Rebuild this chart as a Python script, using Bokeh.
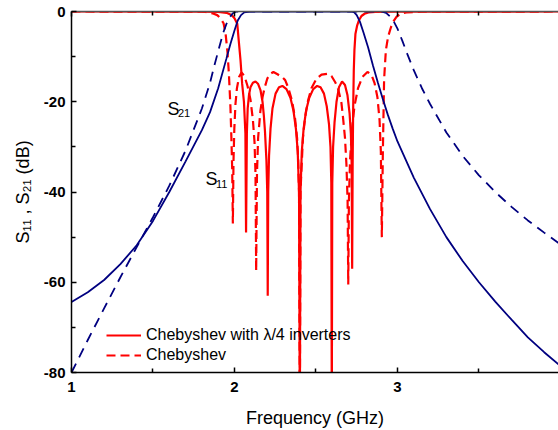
from bokeh.plotting import figure
from bokeh.models import Range1d, LinearAxis, FixedTicker, Legend, LegendItem, Label
from bokeh.embed import file_html
from bokeh.resources import INLINE

FONT = "Liberation Sans"

# ---------------- data ----------------
# S11, Chebyshev with lambda/4 inverters (solid red)
f_s11_inv = [1.0, 1.8, 1.9, 1.951, 1.982, 2.000, 2.017, 2.026, 2.037, 2.047, 2.058, 2.067,
             2.071, 2.076, 2.081, 2.089, 2.098, 2.113, 2.129, 2.144, 2.160, 2.172, 2.180,
             2.187, 2.196, 2.201, 2.204, 2.207, 2.212, 2.221, 2.233, 2.252, 2.273, 2.294,
             2.319, 2.344, 2.362, 2.377, 2.388, 2.396, 2.401, 2.405, 2.413, 2.424, 2.439,
             2.458, 2.483, 2.507, 2.528, 2.549, 2.566, 2.580, 2.589, 2.594, 2.597, 2.600,
             2.605, 2.614, 2.626, 2.641, 2.660, 2.678, 2.693, 2.706, 2.714, 2.719, 2.722,
             2.725, 2.728, 2.732, 2.736, 2.742, 2.752, 2.763, 2.779, 2.798, 2.822, 2.865,
             3.0, 4.0]
db_s11_inv = [0.0, -0.02, -0.1, -0.3, -0.8, -1.5, -2.7, -6.4, -10.8, -16.0, -20.0, -27.0,
              -49.0, -27.0, -21.5, -18.5, -16.8, -15.8, -15.5, -16.0, -17.5, -20.0, -23.0,
              -26.5, -33.0, -40.0, -63.0, -40.0, -32.0, -26.0, -21.5, -18.2, -16.8, -16.5,
              -17.2, -19.2, -22.0, -26.0, -31.0, -40.0, -90.0, -40.0, -31.0, -26.0, -22.0,
              -19.2, -17.2, -16.5, -16.8, -18.2, -21.0, -25.0, -30.0, -38.0, -90.0, -38.0,
              -30.0, -24.5, -20.0, -16.8, -15.5, -16.3, -18.5, -22.5, -27.0, -34.0, -57.0,
              -34.0, -22.0, -13.0, -8.5, -5.0, -3.2, -2.0, -1.0, -0.5, -0.2, -0.1,
              -0.02, 0.0]

# S11, Chebyshev (dashed red)
f_s11_ch = [1.0, 1.8, 1.822, 1.865, 1.894, 1.914, 1.933, 1.945, 1.957, 1.966, 1.975, 1.981,
            1.986, 1.990, 1.994, 1.999, 2.006, 2.015, 2.028, 2.043, 2.061, 2.080, 2.098,
            2.113, 2.123, 2.129, 2.133, 2.138, 2.145, 2.159, 2.172, 2.184, 2.202, 2.221,
            2.239, 2.264, 2.294, 2.311, 2.331, 2.353, 2.371, 2.384, 2.391, 2.396, 2.401,
            2.405, 2.411, 2.420, 2.433, 2.451, 2.472, 2.503, 2.534, 2.571, 2.595, 2.620,
            2.636, 2.656, 2.666, 2.678, 2.687, 2.694, 2.698, 2.702, 2.709, 2.721, 2.736,
            2.758, 2.785, 2.816, 2.840, 2.859, 2.877, 2.890, 2.898, 2.904, 2.910, 2.918,
            2.929, 2.943, 2.960, 2.975, 2.994, 3.018, 3.055, 3.15, 4.0]
db_s11_ch = [0.0, -0.05, -0.1, -0.4, -0.8, -1.5, -2.6, -4.8, -9.0, -14.0, -21.0, -28.0,
             -35.0, -47.0, -33.0, -26.0, -20.5, -17.0, -14.5, -13.5, -14.3, -16.5, -19.5,
             -24.0, -29.0, -36.0, -57.5, -36.0, -28.0, -22.0, -19.0, -17.0, -14.8, -13.8,
             -13.4, -13.9, -14.6, -15.2, -17.0, -19.8, -23.5, -28.0, -33.0, -40.0, -90.0,
             -40.0, -35.0, -28.0, -23.5, -19.8, -17.0, -14.9, -14.0, -13.8, -14.3, -15.8,
             -17.2, -20.2, -23.5, -28.0, -34.0, -42.0, -60.5, -42.0, -33.0, -26.0, -21.0,
             -17.0, -14.5, -13.4, -14.0, -15.8, -19.0, -24.0, -31.0, -50.0, -32.0, -15.0,
             -8.5, -5.5, -3.5, -2.2, -1.2, -0.5, -0.2, -0.05, 0.0]

# S21, Chebyshev with lambda/4 inverters (solid blue)
f_s21_inv = [1.0, 1.1, 1.2, 1.3, 1.4, 1.5, 1.6, 1.7, 1.8, 1.85, 1.9, 1.95, 1.975, 2.0,
             2.02, 2.04, 2.06, 2.09, 2.72, 2.735, 2.75, 2.77, 2.79, 2.82, 2.85, 2.88, 2.91,
             2.94, 2.97, 3.0, 3.1, 3.2, 3.3, 3.4, 3.5, 3.6, 3.7, 3.8, 3.9, 3.988]
db_s21_inv = [-64.4, -62.2, -59.5, -56.0, -51.8, -46.4, -40.0, -33.2, -26.3, -22.3, -17.0,
              -10.5, -7.2, -4.2, -2.0, -0.8, -0.2, 0.0, 0.0, -0.2, -0.8, -2.3, -4.5, -8.0,
              -12.0, -15.8, -19.4, -22.8, -25.9, -28.8, -36.8, -43.8, -50.0, -55.3, -60.0,
              -64.3, -68.3, -72.2, -75.5, -78.2]

# S21, Chebyshev (dashed blue)
f_s21_ch = [1.0, 1.1, 1.2, 1.3, 1.4, 1.5, 1.6, 1.7, 1.8, 1.85, 1.875, 1.9, 1.93, 1.95,
            1.97, 1.99, 2.01, 2.03, 2.9, 2.93, 2.96, 2.98, 3.0, 3.03, 3.06, 3.1, 3.15, 3.2,
            3.3, 3.4, 3.5, 3.6, 3.7, 3.8, 3.9, 3.988]
db_s21_ch = [-80.0, -72.8, -65.8, -58.9, -52.2, -45.6, -38.6, -30.8, -21.5, -15.8, -12.2,
             -8.8, -4.8, -2.8, -1.3, -0.4, -0.05, 0.0, 0.0, -0.3, -1.3, -2.4, -3.8, -6.5,
             -9.4, -13.0, -17.0, -20.5, -26.8, -32.0, -36.3, -40.0, -43.3, -46.3, -49.0,
             -51.3]

x_ticks = [1, 2, 3, 4]
x_minor = [1.5, 2.5, 3.5]
x_tick_labels = ["1", "2", "3", "4"]
y_ticks = [-80, -60, -40, -20, 0]
y_minor = [-70, -50, -30, -10]
y_tick_labels = ["-80", "-60", "-40", "-20", "0"]

legend_labels = ["Chebyshev with \u03bb/4 inverters", "Chebyshev"]
x_title = "Frequency (GHz)"
y_title = "S\u2081\u2081 , S\u2082\u2081 (dB)"

RED = "#ff0000"
BLUE = "#000080"

# ---------------- figure ----------------
p = figure(width=558, height=430, x_range=Range1d(1.0, 3.988), y_range=Range1d(-80, 0),
           output_backend="svg", toolbar_location=None,
           x_axis_location=None, y_axis_location=None,
           min_border_left=71, min_border_right=0, min_border_top=11, min_border_bottom=57)
p.grid.visible = False
p.outline_line_color = None
p.background_fill_color = "white"
p.border_fill_color = "white"

def style_axis(ax):
    ax.axis_line_color = "black"
    ax.axis_line_width = 1.5
    ax.major_tick_line_color = "black"
    ax.minor_tick_line_color = "black"
    ax.major_tick_line_width = 1.5
    ax.minor_tick_line_width = 1.5
    ax.major_tick_in = 5
    ax.major_tick_out = 0
    ax.minor_tick_in = 4
    ax.minor_tick_out = 0
    ax.major_label_text_font = FONT
    ax.major_label_text_font_style = "bold"
    ax.major_label_text_font_size = "15px"
    ax.major_label_text_color = "black"

xaxis = LinearAxis(ticker=FixedTicker(ticks=x_ticks, minor_ticks=x_minor),
                   major_label_overrides=dict(zip(x_ticks, x_tick_labels)))
style_axis(xaxis)
xaxis.major_label_standoff = 9
xaxis.axis_label = x_title
xaxis.axis_label_text_font = FONT
xaxis.axis_label_text_font_style = "normal"
xaxis.axis_label_text_font_size = "18px"
xaxis.axis_label_text_color = "black"
xaxis.axis_label_standoff = 13
p.add_layout(xaxis, "below")

yaxis = LinearAxis(ticker=FixedTicker(ticks=y_ticks, minor_ticks=y_minor),
                   major_label_overrides=dict(zip(y_ticks, y_tick_labels)))
style_axis(yaxis)
yaxis.major_label_standoff = 6
yaxis.axis_label = y_title
yaxis.axis_label_text_font = FONT
yaxis.axis_label_text_font_style = "normal"
yaxis.axis_label_text_font_size = "18px"
yaxis.axis_label_text_color = "black"
yaxis.axis_label_standoff = 8
p.add_layout(yaxis, "left")

topaxis = LinearAxis(ticker=FixedTicker(ticks=x_ticks, minor_ticks=x_minor),
                     major_label_overrides={t: "" for t in x_ticks})
style_axis(topaxis)
topaxis.axis_line_color = "#555555"
topaxis.major_label_text_font_size = "0px"
topaxis.major_label_standoff = 0
p.add_layout(topaxis, "above")

# ---------------- curves ----------------
r_s11_inv = p.line(f_s11_inv, db_s11_inv, line_color=RED, line_width=2.2)
r_s11_ch = p.line(f_s11_ch, db_s11_ch, line_color=RED, line_width=2.2, line_dash="9 5")
p.line(f_s21_ch, db_s21_ch, line_color=BLUE, line_width=1.8, line_dash="10 7")
p.line(f_s21_inv, db_s21_inv, line_color=BLUE, line_width=1.8)

legend = Legend(items=[LegendItem(label=legend_labels[0], renderers=[r_s11_inv]),
                       LegendItem(label=legend_labels[1], renderers=[r_s11_ch])],
                location=(35, 7), orientation="vertical",
                glyph_width=35, glyph_height=20, label_height=20, label_standoff=5,
                spacing=0, padding=0, margin=0,
                label_text_font=FONT, label_text_font_size="16px", label_text_color="black",
                border_line_color=None, background_fill_alpha=0)
p.add_layout(legend, "center")

# ---------------- in-plot S21 / S11 labels ----------------
def add_text(x, y, text, size):
    p.add_layout(Label(x=x, y=y, text=text, text_font=FONT,
                       text_font_size=size, text_color="black",
                       text_align="left", text_baseline="alphabetic"))

add_text(1.589, -21.6, "S", "18px")
add_text(1.653, -22.6, "21", "11px")
add_text(1.822, -37.2, "S", "18px")
add_text(1.887, -38.2, "11", "11px")

open("out.html", "w").write(file_html(p, INLINE))
